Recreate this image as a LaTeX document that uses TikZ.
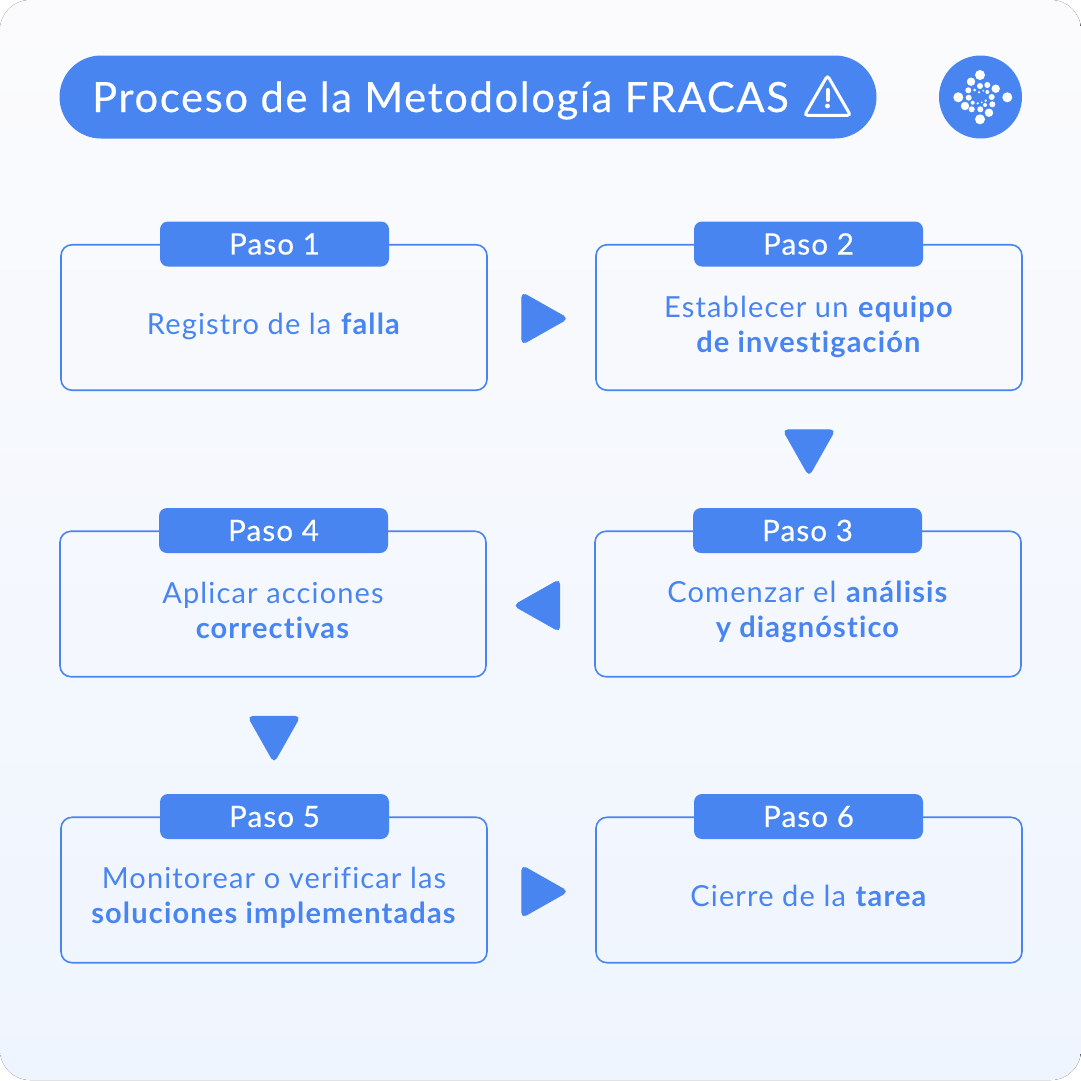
\documentclass[tikz,border=0pt]{standalone}
\usepackage{fontspec}
\usepackage{xcolor}
\usetikzlibrary{shapes.geometric}
\setmainfont{Lato}[LetterSpace=4.0,RawFeature=-liga]
\newfontfamily\medio{Lato}[LetterSpace=4.0,RawFeature=-liga,FakeBold=0.4]
\definecolor{azul}{HTML}{4885F0}
\definecolor{fondoa}{HTML}{FBFBFD}
\definecolor{fondob}{HTML}{EFF5FE}
\tikzstyle{caja}=[rectangle, draw=azul, line width=1.6pt, rounded corners=11pt, minimum width=426pt, minimum height=145.5pt, inner sep=0pt]
\tikzstyle{paso}=[rectangle, fill=azul, rounded corners=8pt, minimum width=229pt, minimum height=45pt, inner sep=0pt, text=white, font=\medio\fontsize{29.5}{29.5}\selectfont]
\tikzstyle{texto}=[text=azul, align=center, font=\fontsize{29}{35}\selectfont, inner sep=0pt]
\tikzstyle{flecha}=[isosceles triangle, isosceles triangle apex angle=60, isosceles triangle stretches, fill=azul, draw=azul, line width=1pt, rounded corners=5pt, inner sep=0pt, minimum height=46pt, minimum width=52pt]
\newcommand{\caja}{\node[caja]}
\newcommand{\paso}{\node[paso]}
\newcommand{\texto}{\node[texto]}
\newcommand{\flecha}{\node[flecha]}
\begin{document}
\begin{tikzpicture}[x=1pt,y=-1pt]
\useasboundingbox (0,0) rectangle (1081,1080);
\fill[rounded corners=30pt, top color=fondoa, bottom color=fondob] (0,0) rectangle (1081,1080);
\node[rectangle, fill=azul, rounded corners=41.5pt, minimum width=817pt, minimum height=83pt, inner sep=0pt] (titulo) at (468,97) {};
\node[text=white, anchor=base west, inner sep=0pt, font=\medio\fontsize{41.7}{41.7}\selectfont] (nombre) at (92,112) {Proceso de la Metodología FRACAS};
\node[regular polygon, regular polygon sides=3, draw=white, line width=3pt, rounded corners=3pt, minimum size=53pt, inner sep=0pt] (alerta) at (827.5,102) {};
\draw[white, line width=4pt, line cap=round] (827.5,90) -- (827.5,100);
\fill[white] (827.5,106) circle (2.4);
\node[circle, fill=azul, minimum size=83pt, inner sep=0pt] (logo) at (980.5,97) {};
\foreach \x/\y/\r in {980/75/5,1007.3/97.3/5,980/119.3/5,958.3/97.3/5,971/81.7/4.2,995.7/88.7/4.2,989/112.7/4.2,965/106/4.2,980/86/3,987.3/85/3,968.3/90.3/3,968.7/97.7/3,971.7/109.3/3,980.3/109.3/3,992.3/104.3/3,991.7/97/3,987.3/92/2,974.7/90/1.5,979/92.3/1.2,983.3/90.7/1,972.7/102.7/2,977.7/103.3/1.2,981.7/102.3/1,985.7/100.7/1.3,985/105/2}{
	\fill[white] (\x,\y) circle (\r);
	}
\foreach \i/\x/\y/\t in {1/274/317.5/274.5,2/809/317.5/808.5,3/808/604/807.5,4/273/604/273.5,5/274/890/274.5,6/809/890/808.5}{
	\caja (caja\i) at (\x,\y) {};
	\paso (paso\i) at (\t,\y-73.5) {Paso \i};
	}
\texto (texto1) at (274,326) {Registro de la \textbf{falla}};
\texto (texto2) at (809,327) {Establecer un \textbf{equipo}\\\textbf{de investigación}};
\texto (texto3) at (808,612) {Comenzar el \textbf{análisis}\\\textbf{y diagnóstico}};
\texto (texto4) at (273,610) {Aplicar acciones\\\textbf{correctivas}};
\texto (texto5) at (274,898) {Monitorear o verificar las\\\textbf{soluciones implementadas}};
\texto (texto6) at (809,896) {Cierre de la \textbf{tarea}};
\flecha (flecha1) at (537,318.5) {};
\flecha[shape border rotate=-90] (flecha2) at (809,445) {};
\flecha[shape border rotate=180] (flecha3) at (544.5,605.5) {};
\flecha[shape border rotate=-90] (flecha4) at (274,731.5) {};
\flecha (flecha5) at (537,891.5) {};
\end{tikzpicture}
\end{document}
